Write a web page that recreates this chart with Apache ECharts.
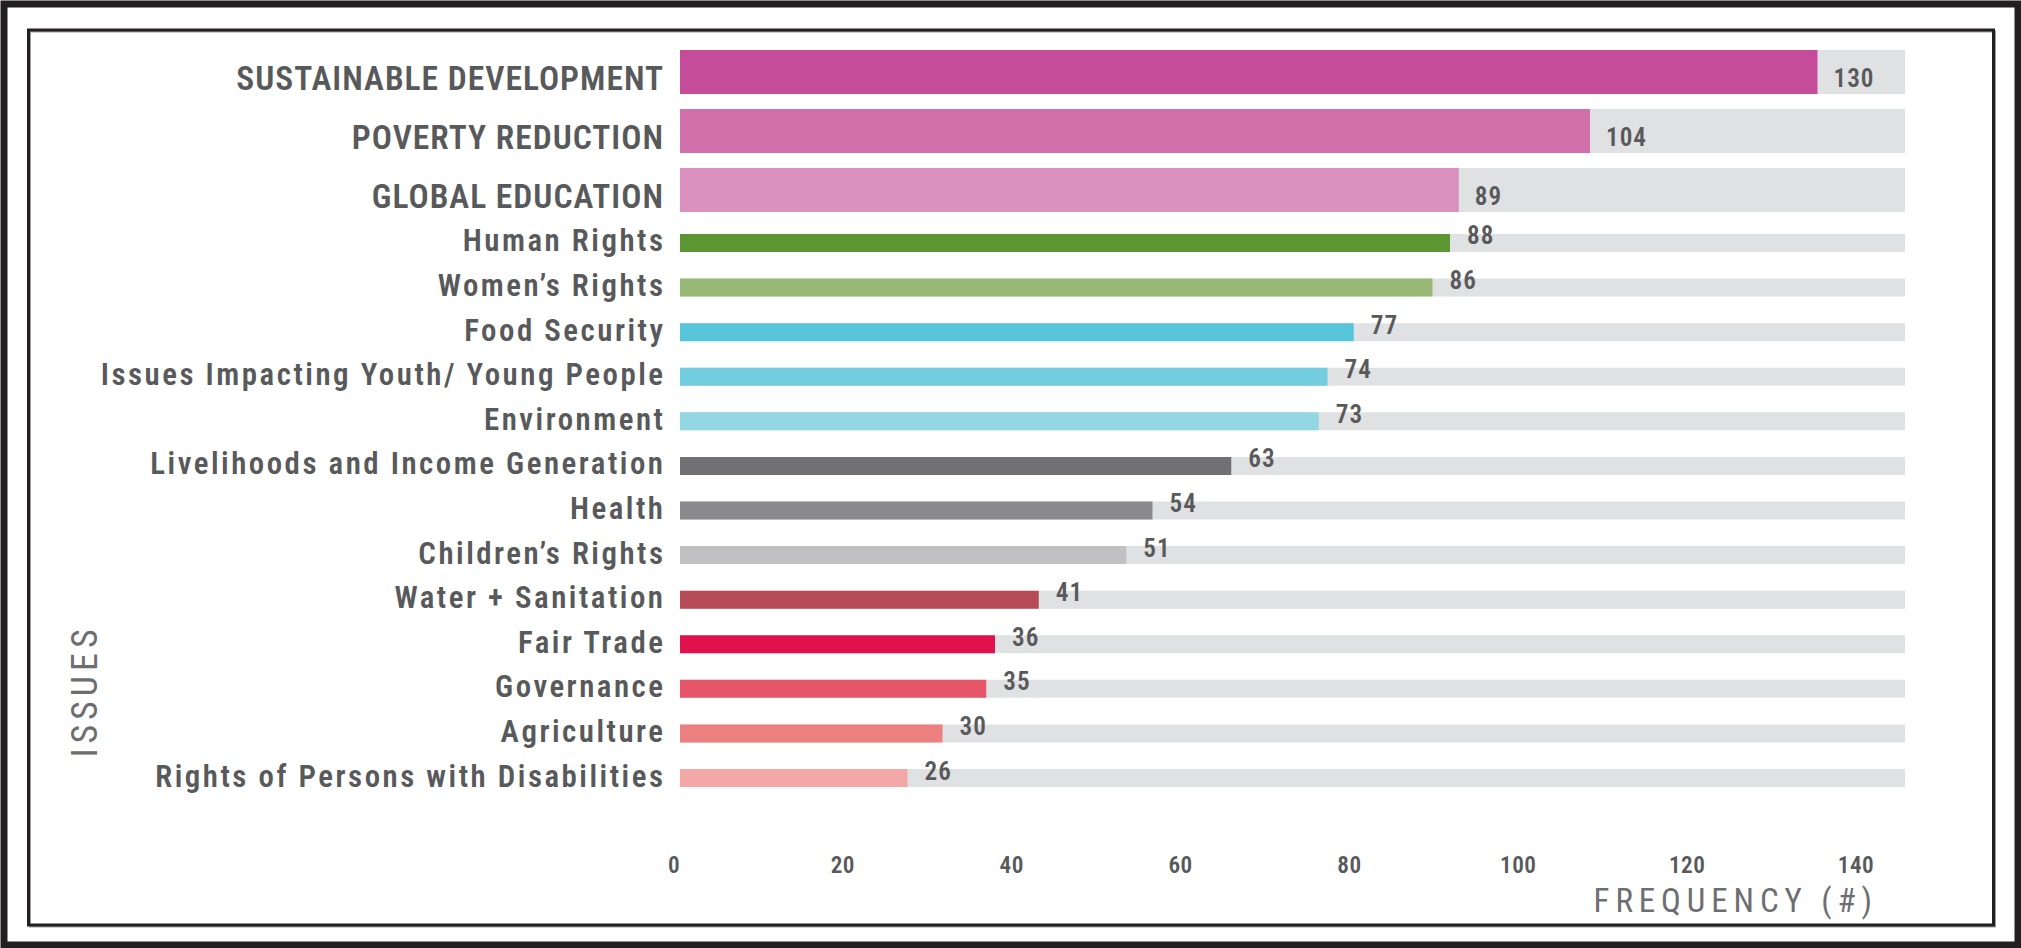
<!DOCTYPE html>
<html>
<head>
<meta charset="utf-8">
<script src="https://cdn.jsdelivr.net/npm/echarts@6/dist/echarts.min.js"></script>
<style>
  html, body { margin: 0; padding: 0; background: #fff; }
  #chart { width: 2021px; height: 948px; }
</style>
</head>
<body>
<div id="chart"></div>
<script>
// ---- data ----
const topCategories = ['SUSTAINABLE DEVELOPMENT', 'POVERTY REDUCTION', 'GLOBAL EDUCATION'];
const topValues = [130, 104, 89];
const topColors = ['#c44c98', '#cf70aa', '#db91bf'];

const categories = [
  'Human Rights', 'Women\u2019s Rights', 'Food Security', 'Issues Impacting Youth/ Young People',
  'Environment', 'Livelihoods and Income Generation', 'Health', 'Children\u2019s Rights',
  'Water + Sanitation', 'Fair Trade', 'Governance', 'Agriculture', 'Rights of Persons with Disabilities'
];
const values = [88, 86, 77, 74, 73, 63, 54, 51, 41, 36, 35, 30, 26];
const colors = ['#5c9632', '#97b975', '#58c6da', '#72cde0', '#93d7e3', '#717074', '#8a898d',
  '#c1c1c3', '#b54b56', '#e0114c', '#e8566a', '#ec8080', '#f4a7a7'];

const axisMin = 0, axisMax = 140, axisStep = 20;
const xAxisName = 'FREQUENCY (#)';
const yAxisName = 'ISSUES';

// ---- font selection (pick the narrowest-looking installed face) ----
function emWidth(str, weight, family, stretch) {
  const s = document.createElement('span');
  s.style.position = 'absolute'; s.style.visibility = 'hidden'; s.style.whiteSpace = 'pre';
  s.style.fontFamily = family; s.style.fontWeight = weight; s.style.fontSize = '100px';
  s.style.fontStretch = stretch;
  s.textContent = str;
  document.body.appendChild(s);
  const w = s.getBoundingClientRect().width / 100;
  document.body.removeChild(s);
  return w;
}
const candidates = [
  { family: "'Liberation Sans Narrow'", stretch: '100%' },
  { family: "'Noto Sans'", stretch: '75%' },
  { family: "'Noto Sans'", stretch: '62.5%' },
  { family: "'Open Sans'", stretch: '75%' },
  { family: "Roboto", stretch: '75%' },
  { family: "'DejaVu Sans Condensed'", stretch: '100%' }
];
let best = candidates[candidates.length - 1], bestScore = Infinity;
candidates.forEach(c => {
  const w = emWidth('Human Rights', 600, c.family, c.stretch);
  const score = Math.abs(w - 5.4);
  if (score < bestScore) { bestScore = score; best = c; }
});
const FAM = best.family + ", 'DejaVu Sans Condensed', sans-serif";
const STRETCH = best.stretch;
const VAL_STRETCH = '62.5%';

function fit(str, weight, target, gaps, maxF, sPref, stretch) {
  const w = emWidth(str, weight, FAM, stretch || STRETCH);
  let f = Math.min(maxF, (target - gaps * sPref) / w);
  let s = (target - f * w) / gaps;
  s = Math.max(0, Math.min(8, s));
  return { f: Math.round(f * 10) / 10, s: Math.round(s * 10) / 10 };
}
const thin = fit('Human Rights', 600, 200, 11, 31, 2.5);
const thick = fit('SUSTAINABLE DEVELOPMENT', 600, 427, 22, 36, 1);
const val = fit('130', 600, 40, 2, 35, 1, VAL_STRETCH);
const tick = fit('140', 600, 36, 2, 25.5, 0.5);
const nameX = fit(xAxisName, 400, 278, 12, 33, 5);
const nameY = fit(yAxisName, 400, 128, 5, 36, 4);

// each text class gets its own (near-identical) fill so letter-spacing can target it
const C_THIN = '#58595b', C_THICK = '#58595a', C_VAL = '#59595b', C_TICK = '#57595b';
const C_NX = '#6d6e71', C_NY = '#6d6e70';
const css = document.createElement('style');
css.textContent =
  `#chart text { font-stretch: ${STRETCH} !important; }\n` +
  `#chart text[fill="${C_VAL}"] { font-stretch: ${VAL_STRETCH} !important; letter-spacing: ${val.s}px; }\n` +
  `text[fill="${C_THIN}"] { letter-spacing: ${thin.s}px; }\n` +
  `text[fill="${C_THICK}"] { letter-spacing: ${thick.s}px; }\n` +
  `text[fill="${C_TICK}"] { letter-spacing: ${tick.s}px; }\n` +
  `text[fill="${C_NX}"] { letter-spacing: ${nameX.s}px; }\n` +
  `text[fill="${C_NY}"] { letter-spacing: ${nameY.s}px; }\n`;
document.head.appendChild(css);

const BG = '#e0e1e3';
const chart = echarts.init(document.getElementById('chart'), null, { renderer: 'svg' });
const hiddenX = (gi) => ({ gridIndex: gi, type: 'value', min: axisMin, max: axisMax, show: false });

const option = {
  backgroundColor: '#ffffff',
  animation: false,
  grid: [
    { left: 680, top: 42.5, width: 1225, height: 177, containLabel: false, outerBoundsMode: 'none' },
    { left: 680, top: 220.7, width: 1225, height: 579.6, containLabel: false, outerBoundsMode: 'none' },
    { left: 674, top: 800, width: 1182, height: 40, containLabel: false, outerBoundsMode: 'none' }
  ],
  xAxis: [
    hiddenX(0),
    hiddenX(1),
    {
      gridIndex: 2, type: 'value', min: axisMin, max: axisMax, interval: axisStep,
      axisLine: { show: false }, axisTick: { show: false }, splitLine: { show: false },
      axisLabel: { margin: 13 + (25 - tick.f) / 2, fontSize: tick.f, fontWeight: 600, fontFamily: FAM, color: C_TICK }
    }
  ],
  yAxis: [
    {
      gridIndex: 0, type: 'category', data: topCategories, inverse: true,
      axisLine: { show: false }, axisTick: { show: false }, splitLine: { show: false },
      axisLabel: { margin: 17 - thick.s, fontSize: thick.f, fontWeight: 600, fontFamily: FAM, color: C_THICK,
        verticalAlign: 'top', lineHeight: 13 }
    },
    {
      gridIndex: 1, type: 'category', data: categories, inverse: true,
      axisLine: { show: false }, axisTick: { show: false }, splitLine: { show: false },
      axisLabel: { margin: 17 - thin.s, fontSize: thin.f, fontWeight: 600, fontFamily: FAM, color: C_THIN,
        verticalAlign: 'bottom', lineHeight: 4 }
    },
    { gridIndex: 2, type: 'value', min: 0, max: 1, show: false }
  ],
  series: [
    {
      type: 'bar', xAxisIndex: 0, yAxisIndex: 0, barWidth: 44,
      data: topValues.map((v, i) => ({ value: v, itemStyle: { color: topColors[i] } })),
      showBackground: true, backgroundStyle: { color: BG },
      label: { show: true, position: 'right', distance: 16, offset: [0, 6],
        fontSize: val.f, fontWeight: 600, fontFamily: FAM, color: C_VAL }
    },
    {
      type: 'bar', xAxisIndex: 1, yAxisIndex: 1, barWidth: 18,
      data: values.map((v, i) => ({ value: v, itemStyle: { color: colors[i] } })),
      showBackground: true, backgroundStyle: { color: BG },
      label: { show: true, position: 'right', distance: 17, offset: [0, -7],
        fontSize: val.f, fontWeight: 600, fontFamily: FAM, color: C_VAL }
    }
  ],
  graphic: [
    { type: 'rect', silent: true, shape: { x: 4, y: 4, width: 2014, height: 941 },
      style: { fill: 'none', stroke: '#231f20', lineWidth: 7 } },
    { type: 'rect', silent: true, shape: { x: 30, y: 31.5, width: 1965, height: 895 },
      style: { fill: 'none', stroke: '#9b9b9b', lineWidth: 2 } },
    { type: 'rect', silent: true, shape: { x: 28.5, y: 30, width: 1965, height: 895 },
      style: { fill: 'none', stroke: '#231f20', lineWidth: 3 } },
    { type: 'text', silent: true, x: 1872 + nameX.s, y: 900,
      style: { text: xAxisName, fontSize: nameX.f, fontFamily: FAM, fontWeight: 'normal',
        fill: C_NX, textAlign: 'right', textVerticalAlign: 'middle' } },
    { type: 'text', silent: true, x: 84.5, y: 691, rotation: Math.PI / 2,
      style: { text: yAxisName, fontSize: nameY.f, fontFamily: FAM, fontWeight: 'normal',
        fill: C_NY, textAlign: 'center', textVerticalAlign: 'middle' } }
  ]
};

chart.setOption(option);
</script>
</body>
</html>
